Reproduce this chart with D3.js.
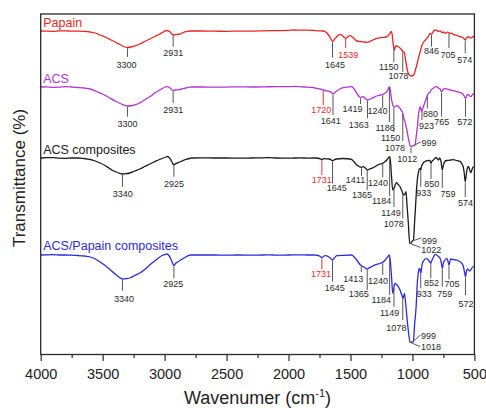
<!DOCTYPE html>
<html>
<head>
<meta charset="utf-8">
<script src="https://cdn.jsdelivr.net/npm/d3@7"></script>
<style>
  html, body { margin: 0; padding: 0; background: #fff; }
  svg { display: block; font-family: "Liberation Sans", Arial, sans-serif; }
</style>
</head>
<body>
<svg id="chart" width="486" height="408"></svg>
<script>
// FTIR spectra: [wavenumber (cm-1), transmittance (%)]
const papain = [[4000,95],[3950,94.8],[3900,94.7],[3850,95.1],[3800,95.2],[3750,94.8],[3700,94.8],[3650,94.6],[3600,94],[3560,93],[3520,91],[3480,89],[3440,86.5],[3400,84],[3360,81.5],[3330,79.5],[3300,78.5],[3270,79],[3240,80.2],[3200,82],[3160,84.5],[3120,87],[3080,89.5],[3040,92],[3010,94],[2985,95.5],[2960,94.5],[2945,92.5],[2931,91],[2918,91.3],[2900,91.6],[2870,92.2],[2850,93.5],[2820,94.6],[2790,95],[2700,95],[2600,94.8],[2500,94.7],[2400,94.9],[2300,94.9],[2200,95.2],[2100,95.4],[2000,95.6],[1950,96],[1900,95.8],[1850,95.9],[1800,95.6],[1760,95.2],[1720,95],[1700,94],[1680,91.5],[1660,87.5],[1645,84.5],[1630,86.5],[1610,89.5],[1584,91.7],[1565,90.5],[1550,88.5],[1538,87.7],[1525,89],[1503,90.3],[1480,88.5],[1449,85],[1420,84.5],[1400,84.2],[1369,83.7],[1340,84.8],[1310,86.5],[1288,87.7],[1260,88.3],[1230,88.6],[1207,89.3],[1185,92],[1170,94.5],[1162,90],[1155,82],[1146,76],[1136,80],[1125,80],[1114,79.3],[1100,78],[1086,76],[1078,74.5],[1068,74],[1050,62],[1035,53],[1020,50.5],[1005,50],[990,51],[979,55],[965,61],[952,67.7],[938,74],[925,80],[910,84],[895,86],[884,87.7],[870,90],[858,92.7],[846,91.5],[835,94],[817,96],[800,95.5],[790,94.5],[777,95],[760,93.5],[750,94],[737,92.7],[720,93.8],[710,93.7],[700,92.5],[685,92.8],[670,91.7],[640,90.5],[616,89.3],[595,88.5],[585,87.5],[574,86],[562,88.5],[549,89.3],[535,88],[521,88.3],[510,89.5],[500,90.3]];

const acs = [[4000,95],[3950,95.2],[3900,94.7],[3850,94.8],[3800,95.3],[3750,95],[3700,94.5],[3650,94],[3600,93],[3550,90.5],[3500,88],[3450,84.5],[3400,81],[3350,78],[3300,76],[3260,76.5],[3220,78],[3180,80.5],[3150,83],[3110,86],[3080,89],[3040,92],[3010,94],[2985,95.3],[2960,94.5],[2945,92.5],[2931,91.3],[2915,92],[2890,92.3],[2860,93],[2830,94],[2800,94.8],[2780,95],[2700,95],[2600,94.8],[2500,94.9],[2400,95.2],[2300,95],[2200,95.1],[2100,95.4],[2000,95.3],[1950,95.6],[1900,95.2],[1850,94.8],[1800,94.5],[1770,93.5],[1746,93],[1720,92],[1700,91.5],[1680,90.8],[1665,90.3],[1650,89],[1641,88],[1630,89],[1611,91],[1585,93],[1557,94.3],[1520,95],[1490,95.3],[1470,93],[1449,88.7],[1430,85.5],[1419,84.3],[1405,85.3],[1396,85.3],[1380,83.5],[1363,82],[1340,83],[1315,84.3],[1290,86],[1261,87],[1240,87.7],[1220,89],[1207,90.3],[1195,93],[1186,95.3],[1178,91],[1168,82],[1159,77],[1150,75.3],[1140,75.3],[1130,76],[1122,76.3],[1110,75],[1100,73.7],[1090,71.5],[1078,68.7],[1070,64],[1060,60.3],[1045,52],[1033,43.7],[1020,37],[1012,35.3],[999,36],[990,36.5],[979,37],[972,43],[965,50.3],[958,58],[952,67],[945,72],[938,75.3],[930,72.5],[925,70.3],[918,73],[910,76],[898,80.3],[885,84.5],[871,88.7],[860,89.5],[850,92],[831,93.7],[818,95],[804,95.3],[790,94],[777,93],[765,90.3],[755,92],[745,93.3],[737,93.7],[720,92.8],[710,92.5],[696,92],[670,91.3],[642,90.3],[620,89.5],[602,88.7],[585,86.5],[572,83.7],[560,86.5],[549,87.7],[538,86],[529,85.3],[515,87.5],[500,88.7]];

const acsComposites = [[4000,95],[3950,95.3],[3900,95.3],[3850,94.8],[3800,94.7],[3750,95],[3700,95],[3650,94.4],[3600,93.5],[3560,92],[3520,90],[3480,87.5],[3450,85],[3420,82.5],[3400,81.5],[3370,80],[3340,79],[3310,79.3],[3280,80],[3240,82],[3200,84],[3160,86.5],[3120,89],[3080,91.3],[3050,93],[3020,94.5],[2990,96],[2975,96.5],[2960,95],[2945,92],[2932,89],[2925,88],[2915,89],[2900,89.8],[2870,91.5],[2850,92.5],[2830,93.5],[2800,94.5],[2780,95],[2700,95.1],[2600,95],[2500,95],[2400,94.8],[2300,95],[2200,95.2],[2150,95.4],[2100,95],[2000,94.8],[1950,95],[1900,95.1],[1850,94.9],[1800,95],[1780,95],[1750,94.5],[1731,93.5],[1715,94.3],[1690,94.2],[1670,94],[1645,92.3],[1630,93.3],[1611,94],[1560,94.5],[1503,94],[1485,93],[1470,91],[1449,88],[1430,86.5],[1411,85.7],[1400,86.2],[1396,86.3],[1380,85],[1365,83],[1345,84],[1330,84.7],[1300,86.5],[1281,88],[1260,89],[1240,89.7],[1225,91],[1207,93],[1195,95],[1183,96.3],[1176,90],[1168,75],[1159,63],[1152,64],[1145,66],[1138,68.5],[1128,70.3],[1115,68.5],[1100,66.3],[1088,63],[1078,59.7],[1068,58],[1060,59],[1052,61.3],[1045,50],[1033,29.7],[1022,9.7],[1012,10],[1000,12],[992,13],[983,30],[975,46.3],[968,62],[960,74],[952,80.5],[944,84],[938,84.7],[933,83],[928,86],[920,88.5],[910,90.5],[898,91.5],[880,92.3],[866,92.5],[858,92.3],[850,89.7],[841,92],[831,93],[817,95],[810,95.5],[800,94.3],[790,93],[780,95],[770,92],[759,83],[750,88],[737,91.7],[725,92.5],[710,92.7],[690,93],[670,93.3],[640,92.3],[616,91.7],[600,89],[590,86],[582,80],[574,71.3],[566,78],[560,83],[549,86.7],[540,84],[529,80.3],[518,84],[510,86],[500,86.3]];

const acsPapainComposites = [[4000,95],[3950,95.2],[3900,95.3],[3850,95],[3800,95],[3750,94.8],[3700,94.5],[3650,94],[3600,93],[3560,91],[3520,88],[3480,84.5],[3440,80.5],[3400,76],[3370,73],[3340,71],[3310,71.3],[3280,72],[3240,74.5],[3200,77],[3160,80.5],[3120,85],[3080,89],[3050,92],[3020,94.5],[2995,95.7],[2980,96],[2965,94.5],[2950,91],[2938,87.5],[2925,84.3],[2912,86.5],[2895,88],[2870,90],[2850,91.5],[2830,93],[2810,94.3],[2790,95],[2700,95],[2600,95],[2500,94.9],[2400,95],[2300,94.9],[2200,95],[2150,95.2],[2100,94.8],[2000,95],[1900,95.1],[1850,95],[1800,95],[1780,94.8],[1750,94],[1731,92.3],[1715,94],[1700,94.4],[1680,93.5],[1660,91.5],[1645,90],[1630,92],[1611,94.3],[1560,94.7],[1490,95],[1470,93],[1449,90],[1430,86.5],[1413,84.3],[1400,83.6],[1396,83.3],[1380,82],[1365,81],[1345,82.5],[1330,83.3],[1310,84.7],[1288,85.7],[1260,86.5],[1240,87.7],[1220,90],[1200,93],[1186,95],[1178,88],[1168,72],[1159,56.7],[1150,62],[1146,65],[1140,66.7],[1125,65],[1114,63.3],[1100,60],[1086,55],[1075,51.7],[1065,56.7],[1055,47],[1041,28.3],[1030,16],[1019,7.7],[1005,8],[992,8.3],[983,25],[971,41.7],[960,68.3],[952,78],[944,81.7],[938,80],[933,76.7],[926,82],[920,86.7],[910,89],[898,91],[885,91.3],[871,90],[860,88],[852,86.7],[845,89],[830,93],[817,95.7],[805,95],[790,93.5],[777,91.7],[768,88],[759,81.7],[750,87],[737,90],[722,91.7],[712,88],[705,85],[697,89],[690,91],[670,90.5],[650,90],[625,89],[602,86.7],[590,84],[580,78],[572,73.3],[565,78],[557,81],[547,80],[537,79],[525,81],[515,83],[500,83.3]];

const seriesNames = ["Papain", "ACS", "ACS composites", "ACS/Papain composites"];
const seriesData = [papain, acs, acsComposites, acsPapainComposites];

// Band assignments labelled on each spectrum (cm-1)
const papainBands = [3300, 2931, 1645, 1539, 1150, 1078, 846, 705, 574];
const acsBands = [3300, 2931, 1720, 1641, 1419, 1363, 1240, 1186, 1150, 1078, 1012, 999, 923, 880, 765, 572];
const acsCompositeBands = [3340, 2925, 1731, 1645, 1411, 1365, 1240, 1184, 1149, 1078, 999, 1022, 933, 850, 759, 574];
const acsPapainBands = [3340, 2925, 1731, 1645, 1413, 1365, 1240, 1184, 1149, 1078, 999, 1018, 933, 852, 759, 705, 572];
const highlightedBands = [[1539], [1720], [1731], [1731]];

const majorTicks = [4000, 3500, 3000, 2500, 2000, 1500, 1000, 500];
const minorTicks = [3750, 3250, 2750, 2250, 1750, 1250, 750];

// ---- layout & style ----
const colors = ["#ee2424", "#b334d8", "#1a1a1a", "#2b2bde"];
const offsets = [228.5, 172.5, 101.5, 4.5];
// per band: [leader end dy from baseline, label dx, label baseline dy, kind]
// kind "v" = vertical tick + centred label, "l" = slanted leader + label to the right
const bandLayout = [
  [[26,-1,37,"v"],[15.7,0,24.5,"v"],[26.5,2.5,36.5,"v"],[17,2.7,26.5,"v"],[31,-5.1,39,"v"],[41,-4.2,47.5,"v"],[15.5,0,23,"v"],[17,-0.9,27,"v"],[22,-0.5,32,"v"]],
  [[29.7,0,40,"v"],[16,0,25.5,"v"],[18,-2,26,"v"],[28,-2.3,37,"v"],[17,-8,25,"v"],[31.3,-8.8,40.5,"v"],[21,-5.3,27,"v"],[35,-4.3,44,"v"],[45,-3.3,53.5,"v"],[54,-7.7,63.5,"v"],[66,-3.7,74.5,"v"],[55,8.2,59,"l"],[33,4.6,42,"v"],[21.3,3.3,29.5,"v"],[29.7,0.3,38,"v"],[29.7,-0.7,38,"v"]],
  [[28.7,0.2,38.5,"v"],[18.7,0,28.5,"v"],[17,0,25,"v"],[25.3,4.2,32.5,"v"],[18,-6,25,"v"],[32,-5.2,40,"v"],[19.3,-4.6,27.5,"v"],[38,-8,46,"v"],[49,-3,57.5,"v"],[60.3,-9,68.5,"v"],[80,8.7,85.5,"l"],[89.5,10.8,94.5,"l"],[28.7,3.1,37.5,"v"],[21,0.7,28.5,"v"],[30,5.8,39,"v"],[39,0.3,47.5,"v"]],
  [[35.7,1.5,46.5,"v"],[23.3,-0.6,32,"v"],[14.3,-0.8,22,"v"],[26.7,2.2,35.5,"v"],[17,-8,26.5,"v"],[35,-8.4,42,"v"],[20,-4.8,29,"v"],[40,-8.4,47.5,"v"],[51.7,-4.3,61,"v"],[65,-6.4,75.5,"v"],[80,7.7,84,"l"],[91.7,10,95,"l"],[33.3,3.6,41.5,"v"],[23.3,0.8,31,"v"],[31.7,2.5,41.5,"v"],[24.3,3.1,32,"v"],[40,0.6,52,"v"]]
];
const allBands = [papainBands, acsBands, acsCompositeBands, acsPapainBands];

const plot = { left: 40.7, right: 474.4, top: 14, bottom: 354.5 };

const svg = d3.select("#chart");
const x = d3.scaleLinear().domain([4000, 500]).range([plot.left, plot.right]);
const y = d3.scaleLinear().domain([0, 340.5]).range([plot.bottom, plot.top]);

function valueAt(data, wn) {
  for (let i = 0; i < data.length - 1; i++) {
    const a = data[i], b = data[i + 1];
    if (wn <= a[0] && wn >= b[0]) {
      const t = (a[0] - wn) / (a[0] - b[0]);
      return a[1] + t * (b[1] - a[1]);
    }
  }
  return data[data.length - 1][1];
}

// spectra
seriesData.forEach((data, i) => {
  const line = d3.line()
    .x(d => x(d[0]))
    .y(d => y(d[1] + offsets[i]))
    .curve(d3.curveMonotoneX);
  svg.append("path")
    .datum(data)
    .attr("d", line)
    .attr("fill", "none")
    .attr("stroke", colors[i])
    .attr("stroke-width", 1.3)
    .attr("stroke-linejoin", "round");

  svg.append("text")
    .attr("x", plot.left + 2.5)
    .attr("y", y(95 + offsets[i]) - [4, 4.5, 4.5, 5][i])
    .attr("fill", colors[i])
    .attr("font-size", 12.5)
    .text(seriesNames[i]);
});

// band annotations
allBands.forEach((bands, i) => {
  const data = seriesData[i];
  const base = y(95 + offsets[i]);
  const g = svg.append("g");
  bands.forEach((wn, j) => {
    const [endDy, ldx, ldy, kind] = bandLayout[i][j];
    const red = highlightedBands[i].includes(wn);
    const lineColor = red ? "#ee3030" : "#555";
    const textColor = red ? "#ee2a2a" : "#2a2a2a";
    const px = x(wn);
    const py = y(valueAt(data, wn) + offsets[i]);
    if (kind === "v") {
      g.append("line")
        .attr("x1", px).attr("x2", px)
        .attr("y1", py + 0.8).attr("y2", base + endDy)
        .attr("stroke", lineColor).attr("stroke-width", 1);
      g.append("text")
        .attr("x", px + ldx).attr("y", base + ldy)
        .attr("text-anchor", "middle")
        .attr("font-size", 9)
        .attr("fill", textColor)
        .text(wn);
    } else {
      g.append("line")
        .attr("x1", px).attr("x2", px + ldx)
        .attr("y1", py).attr("y2", base + endDy)
        .attr("stroke", lineColor).attr("stroke-width", 1);
      g.append("text")
        .attr("x", px + ldx + 0.8).attr("y", base + ldy)
        .attr("text-anchor", "start")
        .attr("font-size", 9)
        .attr("fill", textColor)
        .text(wn);
    }
  });
});

// frame
svg.append("rect")
  .attr("x", plot.left).attr("y", plot.top)
  .attr("width", plot.right - plot.left).attr("height", plot.bottom - plot.top)
  .attr("fill", "none").attr("stroke", "#2a2a2a").attr("stroke-width", 1.3);

// bottom axis
const axis = svg.append("g")
  .attr("transform", `translate(0,${plot.bottom})`)
  .call(d3.axisBottom(x).tickValues(majorTicks).tickFormat(d3.format("d")).tickSize(6.5).tickPadding(8));
axis.select(".domain").remove();
axis.selectAll(".tick line").attr("stroke", "#2a2a2a").attr("stroke-width", 1.2);
axis.selectAll(".tick text")
  .attr("font-size", 14.5)
  .attr("fill", "#222")
  .attr("font-family", "'Liberation Sans', Arial, sans-serif");

const minorAxis = svg.append("g")
  .attr("transform", `translate(0,${plot.bottom})`)
  .call(d3.axisBottom(x).tickValues(minorTicks).tickSize(3.5).tickFormat(""));
minorAxis.select(".domain").remove();
minorAxis.selectAll(".tick line").attr("stroke", "#2a2a2a").attr("stroke-width", 1.2);

// axis titles
const xTitle = svg.append("text")
  .attr("x", (plot.left + plot.right) / 2)
  .attr("y", 404)
  .attr("text-anchor", "middle")
  .attr("font-size", 18)
  .attr("fill", "#222");
xTitle.append("tspan").text("Wavenumer (cm");
xTitle.append("tspan").attr("font-size", 11).attr("dy", -7).text("-1");
xTitle.append("tspan").attr("dy", 7).text(")");

svg.append("text")
  .attr("transform", "translate(25,178) rotate(-90)")
  .attr("text-anchor", "middle")
  .attr("font-size", 17)
  .attr("fill", "#222")
  .text("Transmittance (%)");
</script>
</body>
</html>
